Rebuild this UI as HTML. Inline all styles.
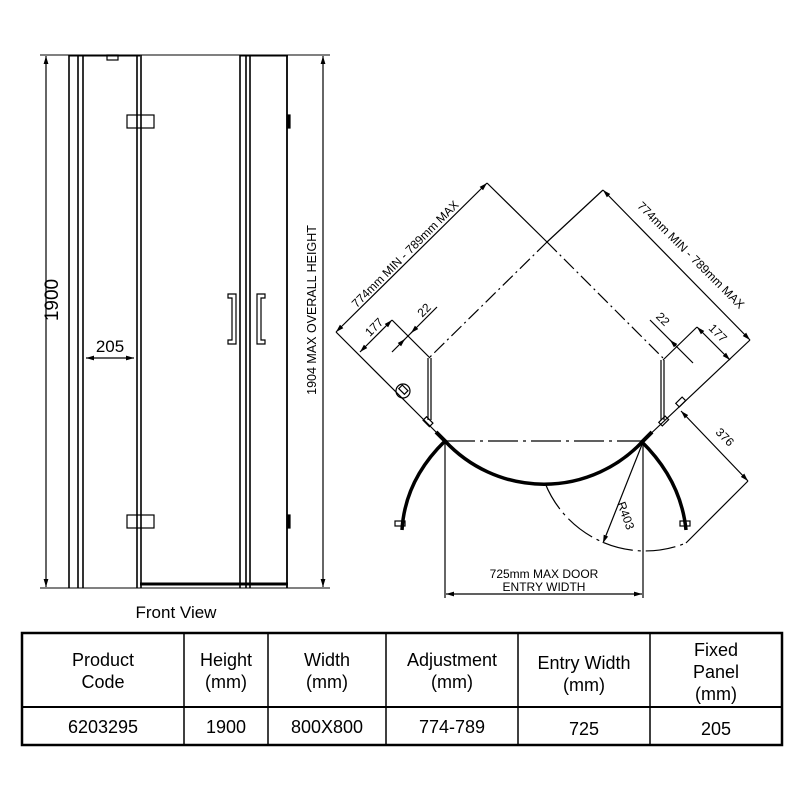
<!DOCTYPE html>
<html><head><meta charset="utf-8"><style>
body{margin:0;background:#fff;}
svg{display:block;font-family:"Liberation Sans",Arial,sans-serif;}
</style></head><body>
<svg width="800" height="800" viewBox="0 0 800 800" xmlns="http://www.w3.org/2000/svg">
<defs>
<marker id="a" viewBox="0 0 10 10" refX="10" refY="5" markerWidth="8" markerHeight="8" orient="auto-start-reverse" markerUnits="userSpaceOnUse"><path d="M0,2 L10,5 L0,8 z" fill="#000"/></marker>
</defs>
<g stroke="#000" fill="none" stroke-width="1.2">
<!-- FRONT VIEW -->
<line x1="40" y1="55" x2="330" y2="55" stroke-width="1"/>
<line x1="40" y1="588" x2="330" y2="588" stroke-width="1"/>
<line x1="46" y1="56" x2="46" y2="587" marker-start="url(#a)" marker-end="url(#a)"/>
<line x1="323" y1="56" x2="323" y2="587" marker-start="url(#a)" marker-end="url(#a)"/>
<line x1="69" y1="55" x2="69" y2="588" stroke-width="1.6"/>
<line x1="78" y1="55" x2="78" y2="588" stroke-width="1.6"/>
<line x1="83" y1="55" x2="83" y2="588" stroke-width="1.6"/>
<line x1="69" y1="55.5" x2="140" y2="55.5" stroke-width="2"/>
<rect x="107" y="55" width="11" height="5"/>
<line x1="137" y1="55" x2="137" y2="588" stroke-width="1.6"/>
<line x1="141" y1="55" x2="141" y2="588" stroke-width="1.6"/>
<rect x="127" y="115" width="27" height="13"/>
<rect x="127" y="515" width="27" height="13"/>
<line x1="140" y1="584" x2="288" y2="584" stroke-width="3"/>
<line x1="240" y1="55" x2="240" y2="588" stroke-width="1.6"/>
<line x1="246" y1="55" x2="246" y2="588" stroke-width="1.6"/>
<line x1="250" y1="55" x2="250" y2="588" stroke-width="1.6"/>
<line x1="287" y1="55" x2="287" y2="588" stroke-width="1.8"/>
<line x1="240" y1="55.5" x2="288" y2="55.5" stroke-width="2"/>
<rect x="287" y="115" width="3" height="13" fill="#000"/>
<rect x="287" y="515" width="3" height="13" fill="#000"/>
<path d="M228,294 h8 v50 h-8 v-4 h4 v-42 h-4 z"/>
<path d="M265,294 h-8 v50 h8 v-4 h-4 v-42 h4 z"/>
<line x1="86" y1="358" x2="134" y2="358" marker-start="url(#a)" marker-end="url(#a)"/>

<!-- PLAN VIEW -->
<line x1="336" y1="332" x2="487" y2="183" marker-start="url(#a)" marker-end="url(#a)"/>
<line x1="603" y1="190" x2="750" y2="340" marker-start="url(#a)" marker-end="url(#a)"/>
<line x1="487" y1="183" x2="547" y2="242"/>
<line x1="547" y1="242" x2="663" y2="358" stroke-dasharray="14,4,2,4"/>
<line x1="603" y1="190" x2="547" y2="242"/>
<line x1="547" y1="242" x2="430" y2="357" stroke-dasharray="14,4,2,4"/>
<line x1="336" y1="332" x2="445" y2="441"/>
<line x1="750" y1="340" x2="643" y2="441"/>
<circle cx="403" cy="391" r="7"/>
<rect x="399" y="387" width="8" height="5" transform="rotate(45 403 390)"/>
<line x1="428" y1="358" x2="428" y2="420" stroke-width="1.2"/>
<line x1="431" y1="358" x2="431" y2="420" stroke-width="1.2"/>
<line x1="661" y1="360" x2="661" y2="420"/>
<line x1="664" y1="360" x2="664" y2="420"/>
<rect x="424" y="419" width="9" height="5" transform="rotate(45 428 421)"/>
<rect x="659" y="419" width="9" height="5" transform="rotate(-45 663 421)"/>
<rect x="676" y="400" width="9" height="5" transform="rotate(-45 680 402)"/>
<line x1="436" y1="432" x2="446" y2="442" stroke-width="4"/>
<line x1="652" y1="432" x2="642" y2="442" stroke-width="4"/>
<!-- 177 / 22 left -->
<line x1="360" y1="352" x2="392" y2="320" marker-start="url(#a)" marker-end="url(#a)"/>
<line x1="392" y1="320" x2="430" y2="358"/>
<line x1="392" y1="352" x2="437" y2="307"/>
<line x1="400" y1="344" x2="405" y2="339" marker-end="url(#a)"/>
<line x1="416" y1="328" x2="411" y2="333" marker-end="url(#a)"/>
<!-- 177 / 22 right -->
<line x1="697" y1="327" x2="730" y2="360" marker-start="url(#a)" marker-end="url(#a)"/>
<line x1="697" y1="327" x2="663" y2="360"/>
<line x1="650" y1="320" x2="693" y2="363"/>
<line x1="670" y1="340" x2="675" y2="345" marker-start="url(#a)"/>
<!-- 376 -->
<line x1="681" y1="411" x2="748" y2="481" marker-start="url(#a)" marker-end="url(#a)"/>
<line x1="748" y1="481" x2="686" y2="543"/>
<!-- doors -->
<path d="M445,441 A135,135 0 0 0 643,441" stroke-width="3.5"/>
<line x1="445" y1="441" x2="643" y2="441" stroke-dasharray="30,5,3,5"/>
<path d="M445,441 Q405,480 402,530" stroke-width="3.5"/>
<path d="M641,441 Q681,480 686,530" stroke-width="3.5"/>
<rect x="395" y="521" width="10" height="5"/>
<rect x="680" y="521" width="10" height="5"/>
<path d="M545,483 A108,108 0 0 0 686,543" stroke-dasharray="30,5,3,5"/>
<line x1="643" y1="442" x2="603" y2="543" marker-end="url(#a)"/>
<line x1="445" y1="441" x2="445" y2="598"/>
<line x1="643" y1="441" x2="643" y2="598"/>
<line x1="446" y1="594" x2="642" y2="594" marker-start="url(#a)" marker-end="url(#a)"/>
</g>
<g fill="#000" font-size="17">
<text x="58" y="300" text-anchor="middle" font-size="19" transform="rotate(-90 58 300)">1900</text>
<text x="110" y="352" text-anchor="middle">205</text>
<text x="316" y="310" text-anchor="middle" font-size="12.5" transform="rotate(-90 316 310)">1904 MAX OVERALL HEIGHT</text>
<text x="176" y="618" text-anchor="middle">Front View</text>
<g font-size="12">
<text x="408" y="257" text-anchor="middle" transform="rotate(-45 408 257)">774mm MIN - 789mm MAX</text>
<text x="688" y="258" text-anchor="middle" transform="rotate(45 688 258)">774mm MIN - 789mm MAX</text>
<text x="377" y="330" text-anchor="middle" transform="rotate(-45 377 330)">177</text>
<text x="427" y="313" text-anchor="middle" transform="rotate(-45 427 313)">22</text>
<text x="715" y="336" text-anchor="middle" transform="rotate(45 715 336)">177</text>
<text x="660" y="322" text-anchor="middle" transform="rotate(45 660 322)">22</text>
<text x="722" y="440" text-anchor="middle" transform="rotate(45 722 440)">376</text>
<text x="622" y="517" text-anchor="middle" transform="rotate(70 622 517)">R403</text>
<text x="544" y="578" text-anchor="middle">725mm MAX DOOR</text>
<text x="544" y="591" text-anchor="middle">ENTRY WIDTH</text>
</g>
</g>
<!-- TABLE -->
<g stroke="#000" fill="none">
<rect x="22" y="633" width="760" height="112" stroke-width="2.5"/>
<line x1="22" y1="707" x2="782" y2="707" stroke-width="2"/>
<line x1="184" y1="633" x2="184" y2="745" stroke-width="1.5"/>
<line x1="268" y1="633" x2="268" y2="745" stroke-width="1.5"/>
<line x1="386" y1="633" x2="386" y2="745" stroke-width="1.5"/>
<line x1="518" y1="633" x2="518" y2="745" stroke-width="1.5"/>
<line x1="650" y1="633" x2="650" y2="745" stroke-width="1.5"/>
</g>
<g fill="#000" font-size="18" text-anchor="middle">
<text x="103" y="666">Product</text><text x="103" y="688">Code</text>
<text x="226" y="666">Height</text><text x="226" y="688">(mm)</text>
<text x="327" y="666">Width</text><text x="327" y="688">(mm)</text>
<text x="452" y="666">Adjustment</text><text x="452" y="688">(mm)</text>
<text x="584" y="669">Entry Width</text><text x="584" y="691">(mm)</text>
<text x="716" y="656">Fixed</text><text x="716" y="678">Panel</text><text x="716" y="700">(mm)</text>
<text x="103" y="733">6203295</text>
<text x="226" y="733">1900</text>
<text x="327" y="733">800X800</text>
<text x="452" y="733">774-789</text>
<text x="584" y="735">725</text>
<text x="716" y="735">205</text>
</g>
</svg>
</body></html>
